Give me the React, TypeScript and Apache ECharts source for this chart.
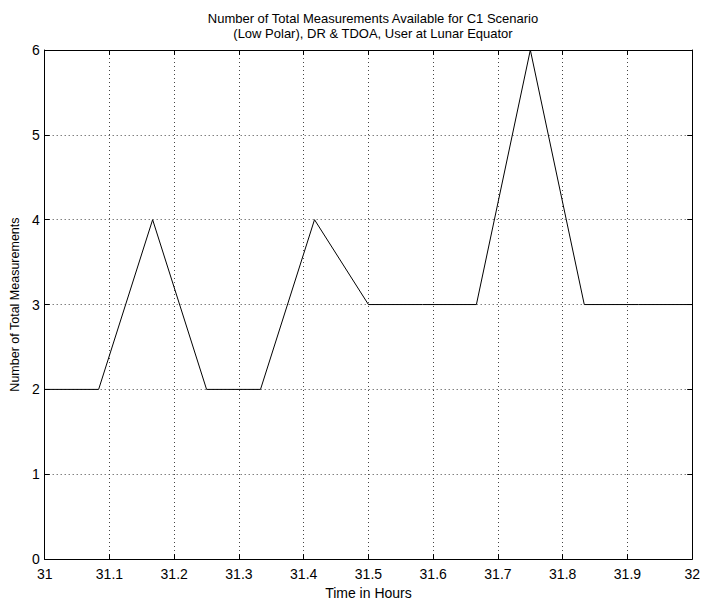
import React, { useEffect, useRef } from "react";
import * as echarts from "echarts";

const timeHours = [31, 31.0833, 31.1667, 31.25, 31.3333, 31.4167, 31.5, 31.5833, 31.6667, 31.75, 31.8333, 31.9167, 32];
const measurements = [2, 2, 4, 2, 2, 4, 3, 3, 3, 6, 3, 3, 3];
const titleLines = [
  "Number of Total Measurements Available for C1 Scenario",
  "(Low Polar), DR & TDOA, User at Lunar Equator",
];
const xName = "Time in Hours";
const yName = "Number of Total Measurements";

const FONT = "'Liberation Sans', Arial, Helvetica, sans-serif";

export default function App() {
  const ref = useRef<HTMLDivElement>(null);
  useEffect(() => {
    if (!ref.current) return;
    const chart = echarts.init(ref.current, undefined, { renderer: "svg" });
    const tick = { show: true, inside: true, length: 5, lineStyle: { color: "#000", width: 1 } };
    const grid = { show: true, lineStyle: { color: "#444", type: [1, 3] as any, width: 1 } };
    const fmtX = (v: number) => String(Math.round(v * 10) / 10);
    chart.setOption({
      animation: false,
      backgroundColor: "#fff",
      textStyle: { fontFamily: FONT },
      title: {
        text: titleLines.join("\n"),
        left: 368,
        top: 6,
        textAlign: "center",
        textStyle: { fontFamily: FONT, fontSize: 13, fontWeight: "normal", color: "#000", lineHeight: 15 },
      },
      grid: { left: 41, right: 8, top: 50, bottom: 38 },
      xAxis: [
        {
          type: "value",
          min: 31,
          max: 32,
          interval: 0.1,
          name: xName,
          nameLocation: "middle",
          nameGap: 23,
          nameTextStyle: { fontFamily: FONT, fontSize: 14, color: "#000" },
          axisLine: { show: true, onZero: false, lineStyle: { color: "#000", width: 1 } },
          axisTick: tick,
          axisLabel: { formatter: fmtX, fontFamily: FONT, fontSize: 14, color: "#000", margin: 8 },
          splitLine: grid,
        },
        {
          type: "value",
          position: "top",
          min: 31,
          max: 32,
          interval: 0.1,
          axisLine: { show: true, onZero: false, lineStyle: { color: "#000", width: 1 } },
          axisTick: tick,
          axisLabel: { show: false },
          splitLine: { show: false },
        },
      ],
      yAxis: [
        {
          type: "value",
          min: 0,
          max: 6,
          interval: 1,
          name: yName,
          nameLocation: "middle",
          nameGap: 20,
          nameTextStyle: { fontFamily: FONT, fontSize: 12.5, color: "#000" },
          axisLine: { show: true, onZero: false, lineStyle: { color: "#000", width: 1 } },
          axisTick: tick,
          axisLabel: { fontFamily: FONT, fontSize: 14, color: "#000", margin: 5 },
          splitLine: grid,
        },
        {
          type: "value",
          position: "right",
          min: 0,
          max: 6,
          interval: 1,
          axisLine: { show: true, onZero: false, lineStyle: { color: "#000", width: 1 } },
          axisTick: tick,
          axisLabel: { show: false },
          splitLine: { show: false },
        },
      ],
      series: [
        {
          type: "line",
          data: timeHours.map((t, i) => [t, measurements[i]]),
          showSymbol: false,
          symbol: "none",
          lineStyle: { color: "#000", width: 1 },
          xAxisIndex: 0,
          yAxisIndex: 0,
        },
      ],
    });
    return () => chart.dispose();
  }, []);
  return <div ref={ref} style={{ position: "fixed", left: 0, top: 0, width: 703, height: 605 }} />;
}
